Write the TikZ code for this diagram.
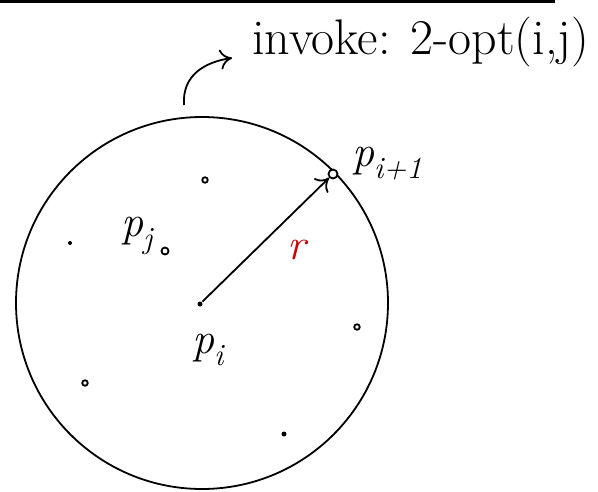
\documentclass[tikz,border=0pt]{standalone}
\usepackage{fontspec}
\usetikzlibrary{arrows.meta}
\begin{document}
\begin{tikzpicture}[x=1pt,y=-1pt,line width=1.8pt,
  pt/.style={circle,draw,fill=white,inner sep=0pt,minimum size=6pt,line width=1.8pt},
  dotpt/.style={circle,fill,inner sep=0pt,minimum size=5pt},
  lbl/.style={font=\fontsize{44}{50}\selectfont\itshape},
  arr/.style={-{To[length=12pt,width=20pt,line width=1.8pt]}}]
\useasboundingbox (0,0) rectangle (598,491);
\draw[line width=2.4pt] (0,1.5) -- (555,1.5);
\node (circ) [circle,draw,minimum size=372pt,inner sep=0pt] at (202,303) {};
\node (pi) [dotpt] at (200,304) {};
\node (pn) [pt,minimum size=9pt] at (333,174) {};
\node (d1) [pt,minimum size=5.5pt] at (205,180) {};
\node (d2) [dotpt,minimum size=4pt] at (70,243) {};
\node (d3) [pt,minimum size=7pt] at (165,251) {};
\node (d4) [pt,minimum size=5.5pt] at (357,327) {};
\node (d5) [pt,minimum size=5.5pt] at (85,383) {};
\node (d6) [dotpt] at (284,434) {};
\draw[arr] (pi) -- (pn);
\node (lpn) [lbl,anchor=west] at (348,164) {p\textsubscript{i+1}};
\node (lpj) [lbl] at (137,236) {p\textsubscript{j}};
\node (lpi) [lbl] at (208,350) {p\textsubscript{i}};
\node (lr) [lbl,text=red!80!black] at (297,250) {r};
\node (title) [font=\fontsize{50}{56}\selectfont,anchor=west] at (248,42) {invoke: 2-opt(i,j)};
\coordinate (cs) at (184,105);
\draw[arr] (cs) .. controls (182,75) and (205,62) .. (232,58);
\end{tikzpicture}
\end{document}
